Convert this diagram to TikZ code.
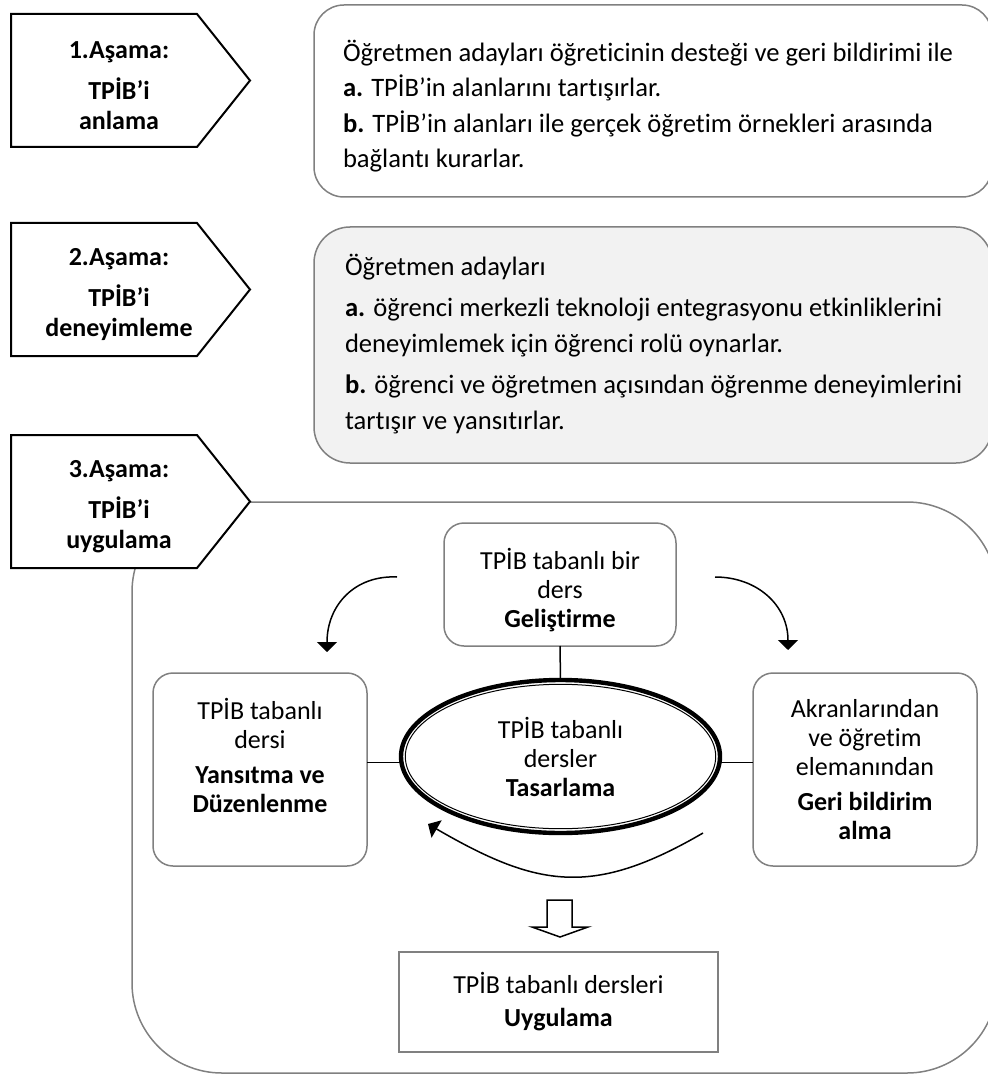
\documentclass[tikz,border=0pt]{standalone}
\usepackage{fontspec}
\setmainfont{Carlito}[Ligatures=CommonOff]
\usetikzlibrary{shapes}
\usetikzlibrary{arrows.meta}
\usetikzlibrary{positioning}
\definecolor{kenar}{HTML}{808080}
\definecolor{acikgri}{HTML}{F2F2F2}
\begin{document}
\begin{tikzpicture}[x=0.5pt,y=-0.5pt]
	\tikzstyle{every node}=[inner sep=0pt, outer sep=0pt, font=\fontsize{13}{14.5}\selectfont]
	\tikzstyle{cerceve}=[draw=kenar, line width=0.75pt]
	\tikzstyle{kutu}=[cerceve, rectangle, rounded corners=10pt, fill=white]
	\tikzstyle{metin}=[align=center]
	\tikzstyle{asama}=[draw=black, line width=1pt, fill=white, line join=miter]
	\tikzstyle{asamametin}=[align=center, font=\fontsize{13}{15}\selectfont\bfseries]
	\tikzstyle{uzunmetin}=[align=left, anchor=base west]
	\tikzstyle{cizgi}=[line width=0.75pt]
	\tikzstyle{ok}=[cizgi, -{Triangle[width=10pt,length=5pt]}]

	\useasboundingbox (0,0) rectangle (987,1075);

	\node[cerceve, rounded corners=15pt, minimum width=339pt, minimum height=96pt, anchor=north west] (kutubir) at (314,5) {};
	\node[uzunmetin, font=\fontsize{13.3}{17.75}\selectfont] (kutubirmetin) at (343,168) {Öğretmen adayları öğreticinin desteği ve geri bildirimi ile\\\textbf{a.} TPİB’in alanlarını tartışırlar.\\\textbf{b.} TPİB’in alanları ile gerçek öğretim örnekleri arasında\\bağlantı kurarlar.};

	\node[cerceve, fill=acikgri, rounded corners=18pt, minimum width=339pt, minimum height=118pt, anchor=north west] (kutuiki) at (314,227) {};
	\node[uzunmetin, font=\fontsize{13.3}{18}\selectfont] (kutuikimetin) at (345,429) {Öğretmen adayları\\[2.5pt]\textbf{a.} öğrenci merkezli teknoloji entegrasyonu etkinliklerini\\deneyimlemek için öğrenci rolü oynarlar.\\[2.5pt]\textbf{b.} öğrenci ve öğretmen açısından öğrenme deneyimlerini\\tartışır ve yansıtırlar.};

	\draw[cerceve, rounded corners=45pt] (132,502) rectangle (997,1073);

	\draw[asama] (11,14) -- (197,14) -- (250,80.5) -- (197,147) -- (11,147) -- cycle;
	\node[asamametin] (asamabir) at (119,86) {1.Aşama:\\[5.5pt]TPİB’i\\anlama};
	\draw[asama] (11,223) -- (197,223) -- (250,289.5) -- (197,356) -- (11,356) -- cycle;
	\node[asamametin] (asamaiki) at (119,295) {2.Aşama:\\[5.5pt]TPİB’i\\deneyimleme};
	\draw[asama] (11,435) -- (197,435) -- (250,501.5) -- (197,568) -- (11,568) -- cycle;
	\node[asamametin] (asamauc) at (119,507) {3.Aşama:\\[5.5pt]TPİB’i\\uygulama};

	\node[kutu, minimum width=116pt, minimum height=61.5pt] (gelistirme) at (560,584.5) {};
	\node[metin] (gelistirmemetin) at (560,590) {TPİB tabanlı bir\\ders\\\textbf{Geliştirme}};
	\node[ellipse, draw=black, line width=2.2pt, minimum width=159.5pt, minimum height=76.5pt, metin] (tasarlama) at (560.5,756.5) {TPİB tabanlı\\dersler\\\textbf{Tasarlama}};
	\draw[line width=0.5pt] (tasarlama.center) ellipse [x radius=77.6pt, y radius=36.1pt];
	\node[kutu, minimum width=107pt, minimum height=96.5pt] (yansitma) at (260,769.5) {};
	\node[metin] (yansitmametin) at (260,755) {TPİB tabanlı\\dersi\\[3pt]\textbf{Yansıtma ve}\\\textbf{Düzenlenme}};
	\node[kutu, minimum width=112pt, minimum height=96.5pt, metin] (geribildirim) at (865,769.5) {Akranlarından\\ve öğretim\\elemanından\\[3pt]\textbf{Geri bildirim}\\\textbf{alma}};
	\node[cerceve, rectangle, line width=1pt, minimum width=159.5pt, minimum height=50pt, metin] (uygulama) at (558.5,1002) {TPİB tabanlı dersleri\\[2pt]\textbf{Uygulama}};

	\coordinate (solbag) at ([yshift=-3pt]tasarlama.west);
	\coordinate (sagbag) at ([yshift=-3pt]tasarlama.east);
	\draw[cizgi] (gelistirme.south) -- (tasarlama.north);
	\draw[cizgi] (solbag) -- (solbag -| yansitma.east);
	\draw[cizgi] (sagbag) -- (sagbag -| geribildirim.west);

	\coordinate (okbirbas) at (397,577);
	\coordinate (okbirson) at (327,652);
	\draw[ok] (okbirbas) .. controls (355,575) and (327,605) .. (okbirson);
	\coordinate (okikibas) at (715,577);
	\coordinate (okikison) at (788,650);
	\draw[ok] (okikibas) .. controls (757,577) and (788,605) .. (okikison);
	\coordinate (okucbas) at (703,833);
	\coordinate (okucson) at (428,824);
	\draw[ok] (okucbas) .. controls (593,897) and (538,888) .. (okucson);

	\draw[line width=0.75pt, fill=white, line join=miter] (547,900) -- (572,900) -- (572,927) -- (588,927) -- (560,937) -- (532,927) -- (547,927) -- cycle;
\end{tikzpicture}
\end{document}
